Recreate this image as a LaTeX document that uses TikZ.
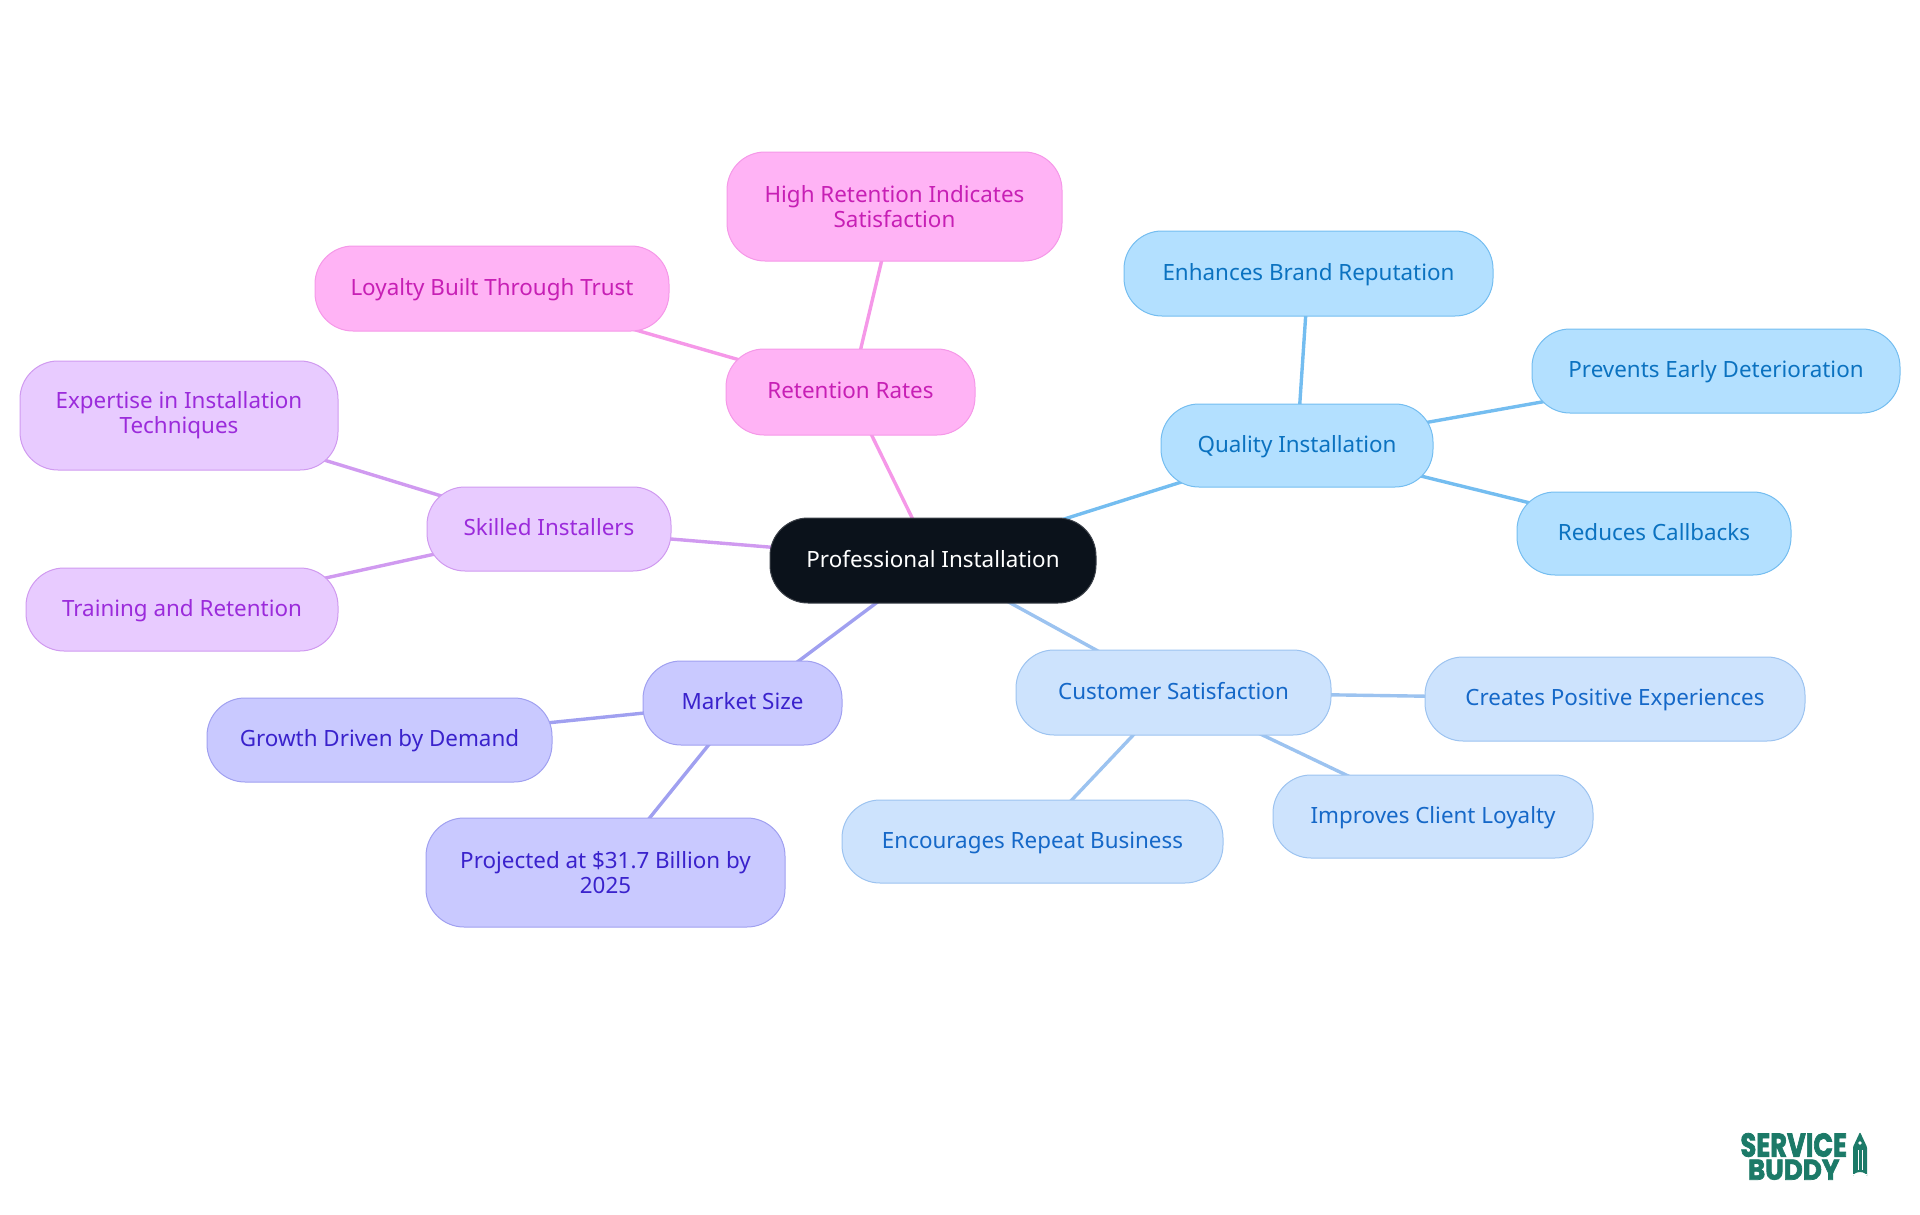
\documentclass[tikz,border=0pt]{standalone}
\usepackage{fontspec}
\setmainfont{Noto Sans}
\newfontfamily\logofont[BoldFeatures={FakeBold=2.5}]{Poppins}
\usepackage{xcolor}
\usetikzlibrary{backgrounds, shapes.geometric}
\definecolor{rosaF}{HTML}{FFB3F5}
\definecolor{rosaT}{HTML}{C71FB5}
\definecolor{rosaL}{HTML}{F598E8}
\definecolor{lilasF}{HTML}{E8CBFF}
\definecolor{lilasT}{HTML}{9B2BDB}
\definecolor{lilasL}{HTML}{D09AF0}
\definecolor{anilF}{HTML}{C9C9FF}
\definecolor{anilT}{HTML}{3A22CC}
\definecolor{anilL}{HTML}{A0A0F0}
\definecolor{azulF}{HTML}{B3E0FF}
\definecolor{azulT}{HTML}{0B72C0}
\definecolor{azulL}{HTML}{74BDF0}
\definecolor{celesteF}{HTML}{CDE3FD}
\definecolor{celesteT}{HTML}{1568C8}
\definecolor{celesteL}{HTML}{9CC3F0}
\definecolor{escuro}{HTML}{0B121B}
\definecolor{marca}{HTML}{1C7A68}

\begin{document}
\begin{tikzpicture}[
		    x=1pt, y=-1pt,
		    every node/.style={rounded corners=38pt, inner sep=0pt, align=center, font=\fontsize{22.4}{25}\selectfont, line width=1pt, text height=17.2pt, text depth=4pt},
		    linha/.style={line width=3.4pt}
		]
		\tikzset{
		    raiz/.style={draw=escuro!80!white, fill=escuro, text=white},
		    rosa/.style={draw=rosaL, fill=rosaF, text=rosaT},
		    lilas/.style={draw=lilasL, fill=lilasF, text=lilasT},
		    anil/.style={draw=anilL, fill=anilF, text=anilT},
		    azul/.style={draw=azulL, fill=azulF, text=azulT},
		    celeste/.style={draw=celesteL, fill=celesteF, text=celesteT},
		    caixa/.style 2 args={minimum width=#1pt, minimum height=#2pt},
		    duas/.style={text height={}, text depth={}},
		    logo/.style={duas, text=marca}
		}
		\useasboundingbox (0,0) rectangle (1920,1215);
		\node[raiz, caixa={326}{85}] (inst) at (933,560.5) {Professional Installation};
		% ramo rosa
		\node[rosa, caixa={249}{86}] (reten) at (850.5,392) {Retention Rates};
		\node[rosa, duas, caixa={335}{109}] (alta) at (894.5,206.5) {High Retention Indicates\\Satisfaction};
		\node[rosa, caixa={354}{85}] (leal) at (492,288.5) {Loyalty Built Through Trust};
		% ramo lilas
		\node[lilas, caixa={244}{84}] (habil) at (549,529) {Skilled Installers};
		\node[lilas, duas, caixa={318}{109}] (perit) at (179,415.5) {Expertise in Installation\\Techniques};
		\node[lilas, caixa={312}{83}] (trein) at (182,609.5) {Training and Retention};
		% ramo anil
		\node[anil, caixa={199}{84}] (merc) at (742.5,703) {Market Size};
		\node[anil, caixa={345}{84}] (cresc) at (379.5,740) {Growth Driven by Demand};
		\node[anil, duas, caixa={359}{109}] (proj) at (605.5,872.5) {Projected at \$31.7 Billion by\\2025};
		% ramo celeste
		\node[celeste, caixa={315}{85}] (clien) at (1173.5,692.5) {Customer Satisfaction};
		\node[celeste, caixa={380}{84}] (cria) at (1615,699) {Creates Positive Experiences};
		\node[celeste, caixa={320}{83}] (melh) at (1433,816.5) {Improves Client Loyalty};
		\node[celeste, caixa={381}{83}] (enco) at (1032.5,841.5) {Encourages Repeat Business};
		% ramo azul
		\node[azul, caixa={272}{83}] (qual) at (1297,445.5) {Quality Installation};
		\node[azul, caixa={369}{85}] (marc) at (1308.5,273.5) {Enhances Brand Reputation};
		\node[azul, caixa={368}{84}] (prev) at (1716,371) {Prevents Early Deterioration};
		\node[azul, caixa={274}{83}] (redu) at (1654,533.5) {Reduces Callbacks};
		\begin{scope}[on background layer]
		  \draw[linha, rosaL] (inst.center) -- (reten.center);
		  \draw[linha, rosaL] (reten.center) -- (alta.center);
		  \draw[linha, rosaL] (reten.center) -- (leal.center);
		  \draw[linha, lilasL] (inst.center) -- (habil.center);
		  \draw[linha, lilasL] (habil.center) -- (perit.center);
		  \draw[linha, lilasL] (habil.center) -- (trein.center);
		  \draw[linha, anilL] (inst.center) -- (merc.center);
		  \draw[linha, anilL] (merc.center) -- (cresc.center);
		  \draw[linha, anilL] (merc.center) -- (proj.center);
		  \draw[linha, celesteL] (inst.center) -- (clien.center);
		  \draw[linha, celesteL] (clien.center) -- (cria.center);
		  \draw[linha, celesteL] (clien.center) -- (melh.center);
		  \draw[linha, celesteL] (clien.center) -- (enco.center);
		  \draw[linha, azulL] (inst.center) -- (qual.center);
		  \draw[linha, azulL] (qual.center) -- (marc.center);
		  \draw[linha, azulL] (qual.center) -- (prev.center);
		  \draw[linha, azulL] (qual.center) -- (redu.center);
		\end{scope}
		% marca
		\node[logo, font=\logofont\bfseries\fontsize{33}{23}\selectfont] (serv) at (1793.7,1156.5) {\scalebox{.78}[1]{SERVICE}\\\fontsize{28.5}{23}\selectfont\scalebox{.92}[1]{BUDDY}};
		\fill[marca, rounded corners=1pt] (1860,1132) -- (1867,1147) -- (1867,1177) arc (0:180:7 and -5) -- (1853,1147) -- cycle;
		\draw[white, line width=1pt] (1858,1150) -- (1858,1170) (1862,1150) -- (1862,1170) (1853,1174) -- (1867,1174);
		\fill[white] (1860,1143) circle (1.8pt);
		\end{tikzpicture}
\end{document}
